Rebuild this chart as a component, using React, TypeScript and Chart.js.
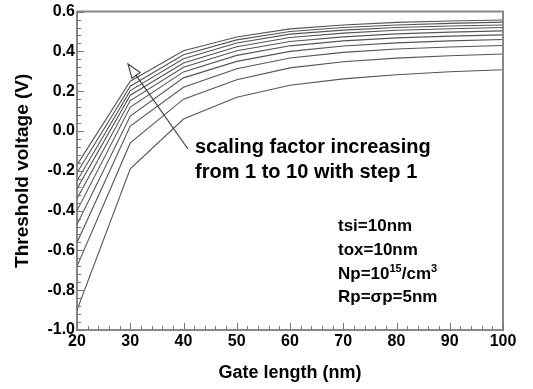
import React, { useEffect, useRef } from "react";
import { Chart, registerables } from "chart.js";

Chart.register(...registerables);

const gateLength = [20, 30, 40, 50, 60, 70, 80, 90, 100];
const xTicks = [20, 30, 40, 50, 60, 70, 80, 90, 100];
const yTicks = [-1.0, -0.8, -0.6, -0.4, -0.2, 0.0, 0.2, 0.4, 0.6];

const sf1 = [-0.9, -0.19, 0.06, 0.17, 0.23, 0.262, 0.283, 0.298, 0.308];
const sf2 = [-0.68, -0.06, 0.16, 0.258, 0.317, 0.348, 0.366, 0.378, 0.387];
const sf3 = [-0.56, 0.025, 0.22, 0.313, 0.367, 0.395, 0.412, 0.422, 0.43];
const sf4 = [-0.47, 0.075, 0.267, 0.35, 0.4, 0.427, 0.443, 0.453, 0.46];
const sf5 = [-0.4, 0.12, 0.297, 0.38, 0.428, 0.453, 0.468, 0.477, 0.483];
const sf6 = [-0.34, 0.153, 0.32, 0.403, 0.45, 0.473, 0.488, 0.497, 0.503];
const sf7 = [-0.29, 0.18, 0.342, 0.423, 0.47, 0.492, 0.506, 0.514, 0.52];
const sf8 = [-0.25, 0.203, 0.363, 0.442, 0.487, 0.507, 0.52, 0.528, 0.533];
const sf9 = [-0.21, 0.225, 0.383, 0.458, 0.5, 0.52, 0.533, 0.541, 0.547];
const sf10 = [-0.17, 0.25, 0.403, 0.472, 0.513, 0.533, 0.546, 0.553, 0.558];

const series = [sf1, sf2, sf3, sf4, sf5, sf6, sf7, sf8, sf9, sf10];

const FONT = "'Liberation Sans', Arial, sans-serif";

const decorPlugin = {
  id: "decor",
  afterDraw(chart: any) {
    const ctx = chart.ctx as CanvasRenderingContext2D;
    const { left, right, top, bottom } = chart.chartArea;
    const xs = chart.scales.x;
    const ys = chart.scales.y;
    ctx.save();
    // frame top/right
    ctx.strokeStyle = "#888";
    ctx.lineWidth = 2;
    ctx.beginPath();
    ctx.moveTo(left, top);
    ctx.lineTo(right, top);
    ctx.lineTo(right, bottom);
    ctx.stroke();
    // ticks inside
    ctx.lineWidth = 1;
    ctx.strokeStyle = "#777";
    ctx.beginPath();
    for (let v = 20; v <= 100 + 1e-9; v += 2) {
      const px = Math.round(xs.getPixelForValue(v)) + 0.5;
      const major = Math.abs(v % 10) < 1e-9;
      ctx.moveTo(px, bottom);
      ctx.lineTo(px, bottom - (major ? 7 : 4));
    }
    for (let i = 0; i <= 40; i++) {
      const v = -1 + i * 0.04;
      const py = Math.round(ys.getPixelForValue(v)) + 0.5;
      const major = i % 5 === 0;
      ctx.moveTo(left, py);
      ctx.lineTo(left + (major ? 7 : 4), py);
    }
    ctx.stroke();

    // arrow
    const tip = { x: 128, y: 64 };
    const tail = { x: 188, y: 149 };
    const ang = Math.atan2(tip.y - tail.y, tip.x - tail.x);
    const hl = 14;
    const hw = 5;
    const bx = tip.x - hl * Math.cos(ang);
    const by = tip.y - hl * Math.sin(ang);
    const nx = -Math.sin(ang);
    const ny = Math.cos(ang);
    ctx.strokeStyle = "#444";
    ctx.lineWidth = 1.2;
    ctx.beginPath();
    ctx.moveTo(tail.x, tail.y);
    ctx.lineTo(bx, by);
    ctx.stroke();
    ctx.beginPath();
    ctx.moveTo(tip.x, tip.y);
    ctx.lineTo(bx + nx * hw, by + ny * hw);
    ctx.lineTo(bx - nx * hw, by - ny * hw);
    ctx.closePath();
    ctx.stroke();

    // annotation text
    ctx.fillStyle = "#000";
    ctx.textBaseline = "alphabetic";
    ctx.textAlign = "left";
    ctx.font = `bold 20px ${FONT}`;
    ctx.fillText("scaling factor increasing", 195, 153);
    ctx.fillText("from 1 to 10 with step 1", 195, 178);

    const bigF = `bold 17px ${FONT}`;
    const supF = `bold 11px ${FONT}`;
    const x0 = 338;
    ctx.font = bigF;
    ctx.fillText("tsi=10nm", x0, 231);
    ctx.fillText("tox=10nm", x0, 255);
    // Np line
    let x = x0;
    const yNp = 279;
    ctx.font = bigF;
    ctx.fillText("Np=10", x, yNp);
    x += ctx.measureText("Np=10").width;
    ctx.font = supF;
    ctx.fillText("15", x, yNp - 7);
    x += ctx.measureText("15").width;
    ctx.font = bigF;
    ctx.fillText("/cm", x, yNp);
    x += ctx.measureText("/cm").width;
    ctx.font = supF;
    ctx.fillText("3", x, yNp - 7);
    ctx.font = bigF;
    ctx.fillText("Rp=σp=5nm", x0, 302);
    ctx.restore();
  },
};

export default function App() {
  const ref = useRef<HTMLCanvasElement | null>(null);
  useEffect(() => {
    document.body.style.margin = "0";
    const canvas = ref.current!;
    const chart = new Chart(canvas, {
      type: "line",
      data: {
        datasets: series.map((s, i) => ({
          label: `sf${i + 1}`,
          data: gateLength.map((g, j) => ({ x: g, y: s[j] })),
          borderColor: "#555",
          borderWidth: 1.1,
          pointRadius: 0,
          tension: 0,
          fill: false,
        })),
      },
      options: {
        responsive: false,
        animation: false,
        events: [],
        layout: { padding: { left: 0, right: 30, top: 10, bottom: 0 } },
        plugins: { legend: { display: false }, tooltip: { enabled: false } },
        scales: {
          x: {
            type: "linear",
            min: 20,
            max: 100,
            afterBuildTicks: (s: any) => {
              s.ticks = xTicks.map((v) => ({ value: v }));
            },
            afterFit: (s: any) => {
              s.height = 59;
            },
            grid: { display: false, drawTicks: false },
            border: { display: true, color: "#888", width: 2 },
            ticks: {
              color: "#000",
              font: { family: FONT, size: 16, weight: "bold" },
              padding: 2,
              maxRotation: 0,
              autoSkip: false,
              callback: (v: any) => String(v),
            },
            title: {
              display: true,
              text: "Gate length (nm)",
              color: "#000",
              font: { family: FONT, size: 18, weight: "bold" },
              padding: { top: 0, bottom: 5 },
            },
          },
          y: {
            type: "linear",
            min: -1,
            max: 0.6,
            afterBuildTicks: (s: any) => {
              s.ticks = yTicks.map((v) => ({ value: v }));
            },
            afterFit: (s: any) => {
              s.width = 77;
            },
            grid: { display: false, drawTicks: false },
            border: { display: true, color: "#888", width: 2 },
            ticks: {
              color: "#000",
              font: { family: FONT, size: 16, weight: "bold" },
              padding: 2,
              autoSkip: false,
              callback: (v: any) => Number(v).toFixed(1),
            },
            title: {
              display: true,
              text: "Threshold voltage (V)",
              color: "#000",
              font: { family: FONT, size: 19, weight: "bold" },
              padding: { top: 11, bottom: 0 },
            },
          },
        },
      },
      plugins: [decorPlugin],
    });
    return () => chart.destroy();
  }, []);
  return (
    <div style={{ position: "fixed", left: 0, top: 0, width: 533, height: 389, background: "#fff" }}>
      <canvas ref={ref} width={533} height={389} />
    </div>
  );
}
